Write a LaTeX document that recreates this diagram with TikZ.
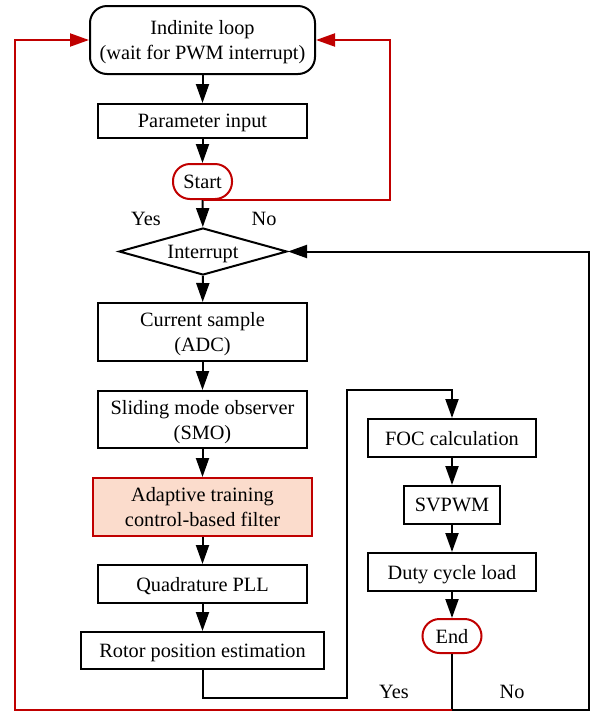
\documentclass[tikz,border=0pt]{standalone}
\usepackage{fontspec}
\setmainfont{Liberation Serif}
\usetikzlibrary{arrows.meta,shapes.geometric}
\definecolor{darkred}{RGB}{192,0,0}
\definecolor{salmon}{RGB}{251,220,204}
\begin{document}
\begin{tikzpicture}[x=1pt,y=-1pt,
  every node/.style={font=\fontsize{20.3}{25}\selectfont, inner sep=0pt, align=center, text depth=0pt},
  box/.style={draw, line width=2pt, rectangle},
  term/.style={draw=darkred, line width=2pt, rectangle, rounded corners=17pt},
  ln/.style={line width=2pt},
  arr/.style={line width=2pt, -{Triangle[length=19pt,width=13pt]}},
  rarr/.style={line width=2pt, draw=darkred, -{Triangle[length=19pt,width=13pt]}, color=darkred},
  lbl/.style={font=\fontsize{20.3}{25}\selectfont}
]
\useasboundingbox (0,0) rectangle (597,713);
% left column
\node[draw, line width=2pt, rounded corners=17pt, minimum width=225pt, minimum height=68pt] (loop) at (202.5,40) {Indinite loop\\(wait for PWM interrupt)};
\node[box, minimum width=209pt, minimum height=34pt] (param) at (202.5,121) {Parameter input};
\node[term, minimum width=59pt, minimum height=35pt] (start) at (202.5,181.5) {Start};
\node[draw, line width=2pt, diamond, aspect=3.57, minimum width=168pt, minimum height=47pt] (intr) at (203,251.5) {Interrupt};
\node[box, minimum width=209pt, minimum height=58pt] (cur) at (202.5,332) {Current sample\\(ADC)};
\node[box, minimum width=209pt, minimum height=57pt] (smo) at (202.5,419.5) {Sliding mode observer\\(SMO)};
\node[box, draw=darkred, fill=salmon, minimum width=219pt, minimum height=58pt] (adapt) at (202.5,507) {Adaptive training\\control-based filter};
\node[box, minimum width=209pt, minimum height=38pt] (qpll) at (202.5,584) {Quadrature PLL};
\node[box, minimum width=243pt, minimum height=37pt] (rotor) at (202.5,650.5) {Rotor position estimation};
% right column
\node[box, minimum width=168pt, minimum height=38pt] (foc) at (452,438) {FOC calculation};
\node[box, minimum width=96pt, minimum height=38pt] (svpwm) at (452,505) {SVPWM};
\node[box, minimum width=168pt, minimum height=38pt] (duty) at (452,572) {Duty cycle load};
\node[term, minimum width=59pt, minimum height=34pt] (end) at (452,636) {End};
% labels
\node[lbl] (yes1) at (146,219) {Yes};
\node[lbl] (no1) at (264,219) {No};
\node[lbl] (yes2) at (394,692) {Yes};
\node[lbl] (no2) at (512,692) {No};
% coordinates
\coordinate (rtop) at (390,40);
\coordinate (c1) at (347,698);
\coordinate (c2) at (347,390);
\coordinate (e1) at (452,710);
\coordinate (br) at (589,710);
\coordinate (bl) at (15,710);
\coordinate (tl) at (15,40);
% connectors
\draw[arr] (loop) -- (param);
\draw[arr] (param) -- (start);
\draw[arr] (start) -- (intr);
\draw[arr] (intr) -- (cur);
\draw[arr] (cur) -- (smo);
\draw[arr] (smo) -- (adapt);
\draw[arr] (adapt) -- (qpll);
\draw[arr] (qpll) -- (rotor);
\draw[arr] (rotor.south) |- (c1) -- (c2) -| (foc.north);
\draw[arr] (foc) -- (svpwm);
\draw[arr] (svpwm) -- (duty);
\draw[arr] (duty) -- (end);
\draw[ln] (end.south) -- (e1);
\draw[arr] (e1) -- (br) |- (intr.east);
\draw[rarr] (e1) -- (bl) -- (tl) -- (loop.west);
\draw[rarr] (start.south) -| (rtop) -- (loop.east);
\end{tikzpicture}
\end{document}
